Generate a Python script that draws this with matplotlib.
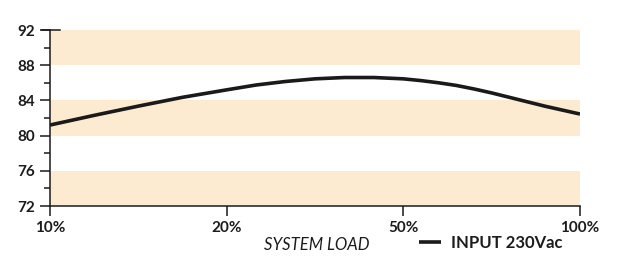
import numpy as np
import matplotlib
matplotlib.use("Agg")
import matplotlib.pyplot as plt

# data
load_ticks = [10, 20, 50, 100]
tick_labels = ["10%", "20%", "50%", "100%"]
load = [10, 12.5, 15, 17.5, 20, 25, 30, 35, 40, 45, 50, 55, 60, 65, 70, 75, 80, 85, 90, 95, 100]
eff = [81.2, 82.3, 83.35, 84.35, 85.2, 85.75, 86.15, 86.45, 86.6, 86.6, 86.45,
       86.25, 86.0, 85.7, 85.3, 84.85, 84.35, 83.85, 83.35, 82.9, 82.45]
y_bands = [(72, 76), (80, 84), (88, 92)]

# the x axis puts 10/20/50/100 at equal spacing
pos = np.arange(len(load_ticks))
def fwd(v):
    return np.interp(v, load_ticks, pos)
def inv(v):
    return np.interp(v, pos, load_ticks)

plt.rcParams['font.family'] = ['Lato', 'DejaVu Sans']
text_c = '#1c1c1c'

fig = plt.figure(figsize=(6.23, 2.78), dpi=100)
ax = fig.add_axes([50/623, 1-206/278, 530/623, 176/278])

for lo, hi in y_bands:
    ax.axhspan(lo, hi, color='#fdebd1', lw=0, zorder=0)

ax.plot(load, eff, color='#1a1a1a', lw=2.6, solid_capstyle='butt',
        label='INPUT 230Vac', zorder=3)

ax.set_xscale('function', functions=(fwd, inv))
ax.set_xlim(10, 100)
ax.set_ylim(72, 92)
ax.set_xticks(load_ticks)
ax.set_xticklabels(tick_labels)
ax.set_xticks([], minor=True)
ax.set_yticks(np.arange(72, 93, 4))
ax.set_yticks(np.arange(74, 92, 4), minor=True)

for s in ['top', 'right']:
    ax.spines[s].set_visible(False)
for s in ['left', 'bottom']:
    ax.spines[s].set_linewidth(1.1)
    ax.spines[s].set_color('#1a1a1a')

ax.tick_params(axis='both', which='major', length=7, width=1.1, color='#1a1a1a',
               labelsize=11, labelcolor=text_c, pad=4)
ax.tick_params(axis='y', which='minor', length=4, width=1.1, color='#1a1a1a')
for lab in ax.get_xticklabels() + ax.get_yticklabels():
    lab.set_fontweight('bold')

# short cap line at the top of the y axis
ax.axhline(92, xmin=-0.015, xmax=0.018, color='#1a1a1a', lw=1.1, clip_on=False)

fig.text(317/623, 1-245/278, 'SYSTEM LOAD', style='italic', fontsize=12,
         color=text_c, ha='center', va='center')
fig.legend(loc='center left', bbox_to_anchor=(419/623, 1-243/278), frameon=False,
           borderpad=0, borderaxespad=0, handlelength=1.3, handletextpad=0.6,
           prop={'size': 12, 'weight': 'bold'}, labelcolor=text_c)

fig.savefig('out.png', dpi=100)
